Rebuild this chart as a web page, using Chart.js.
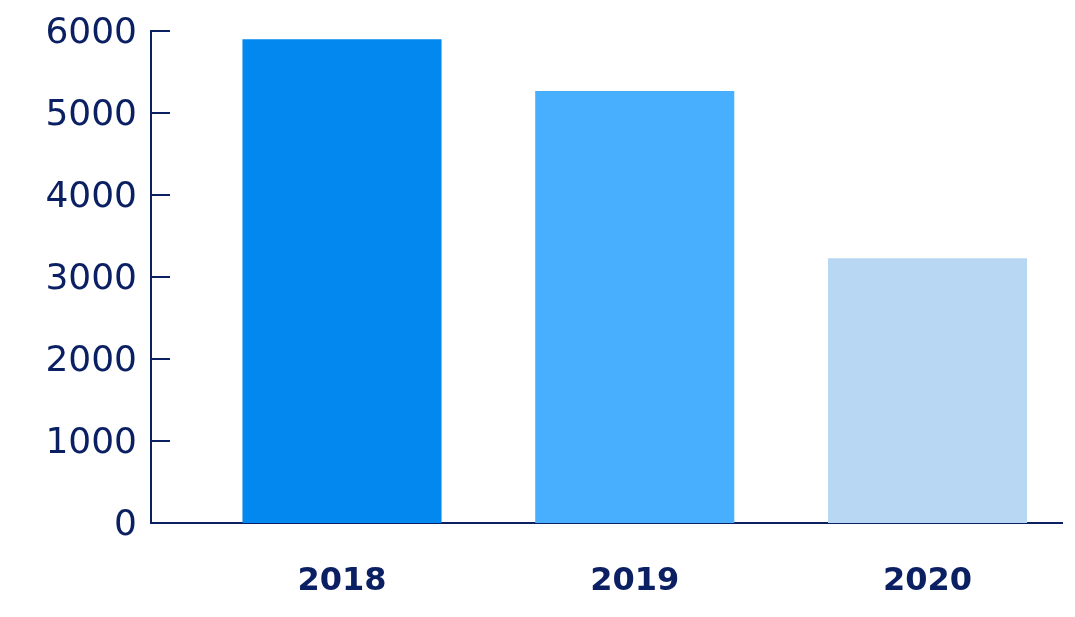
<!DOCTYPE html>
<html>
<head>
<meta charset="utf-8">
<script src="https://cdn.jsdelivr.net/npm/chart.js@4/dist/chart.umd.min.js"></script>
<style>
  html, body { margin: 0; padding: 0; background: #ffffff; }
  #wrap { width: 1075px; height: 617px; position: relative; }
</style>
</head>
<body>
<div id="wrap"><canvas id="c"></canvas></div>
<script>
const years = ['2018', '2019', '2020'];
const values = [5900, 5270, 3230];
const barColors = ['#0288ee', '#48aefe', '#b8d7f2'];
const yTicks = [0, 1000, 2000, 3000, 4000, 5000, 6000];

const navy = '#0b1f63';

const innerTicks = {
  id: 'innerTicks',
  afterDatasetsDraw(chart) {
    const y = chart.scales.y;
    const ctx = chart.ctx;
    const left = chart.chartArea.left;
    ctx.save();
    ctx.strokeStyle = navy;
    ctx.lineWidth = 2;
    y.ticks.forEach(t => {
      const py = Math.round(y.getPixelForValue(t.value));
      ctx.beginPath();
      ctx.moveTo(left, py);
      ctx.lineTo(left + 19, py);
      ctx.stroke();
    });
    ctx.restore();
  }
};

new Chart(document.getElementById('c'), {
  type: 'bar',
  data: {
    datasets: [{
      data: values.map((v, i) => ({ x: i, y: v })),
      backgroundColor: barColors,
      borderWidth: 0,
      barPercentage: 0.68,
      categoryPercentage: 1.0
    }]
  },
  options: {
    responsive: true,
    maintainAspectRatio: false,
    animation: false,
    layout: { padding: { top: 0, right: 13, left: 0, bottom: 0 } },
    plugins: { legend: { display: false }, tooltip: { enabled: false } },
    scales: {
      x: {
        type: 'linear',
        offset: false,
        min: -0.6524,
        max: 2.4594,
        afterBuildTicks: s => { s.ticks = years.map((_, i) => ({ value: i })); },
        afterFit: s => { s.height = 94; },
        grid: { display: false, drawTicks: false, offset: false },
        border: { display: true, color: navy, width: 2 },
        ticks: {
          padding: 39,
          color: navy,
          font: { family: 'DejaVu Sans', size: 32, weight: 'bold' },
          callback: v => years[v] !== undefined ? years[v] : ''
        }
      },
      y: {
        min: 0,
        max: 6000,
        afterBuildTicks: s => { s.ticks = yTicks.map(v => ({ value: v })); },
        afterFit: s => { s.width = 151; },
        grid: { display: false, drawTicks: false },
        border: { display: true, color: navy, width: 2 },
        ticks: {
          padding: 14,
          labelOffset: 3,
          color: navy,
          font: { family: 'DejaVu Sans', size: 36, lineHeight: 0.95 },
          callback: v => String(v)
        }
      }
    }
  },
  plugins: [innerTicks]
});
</script>
</body>
</html>
